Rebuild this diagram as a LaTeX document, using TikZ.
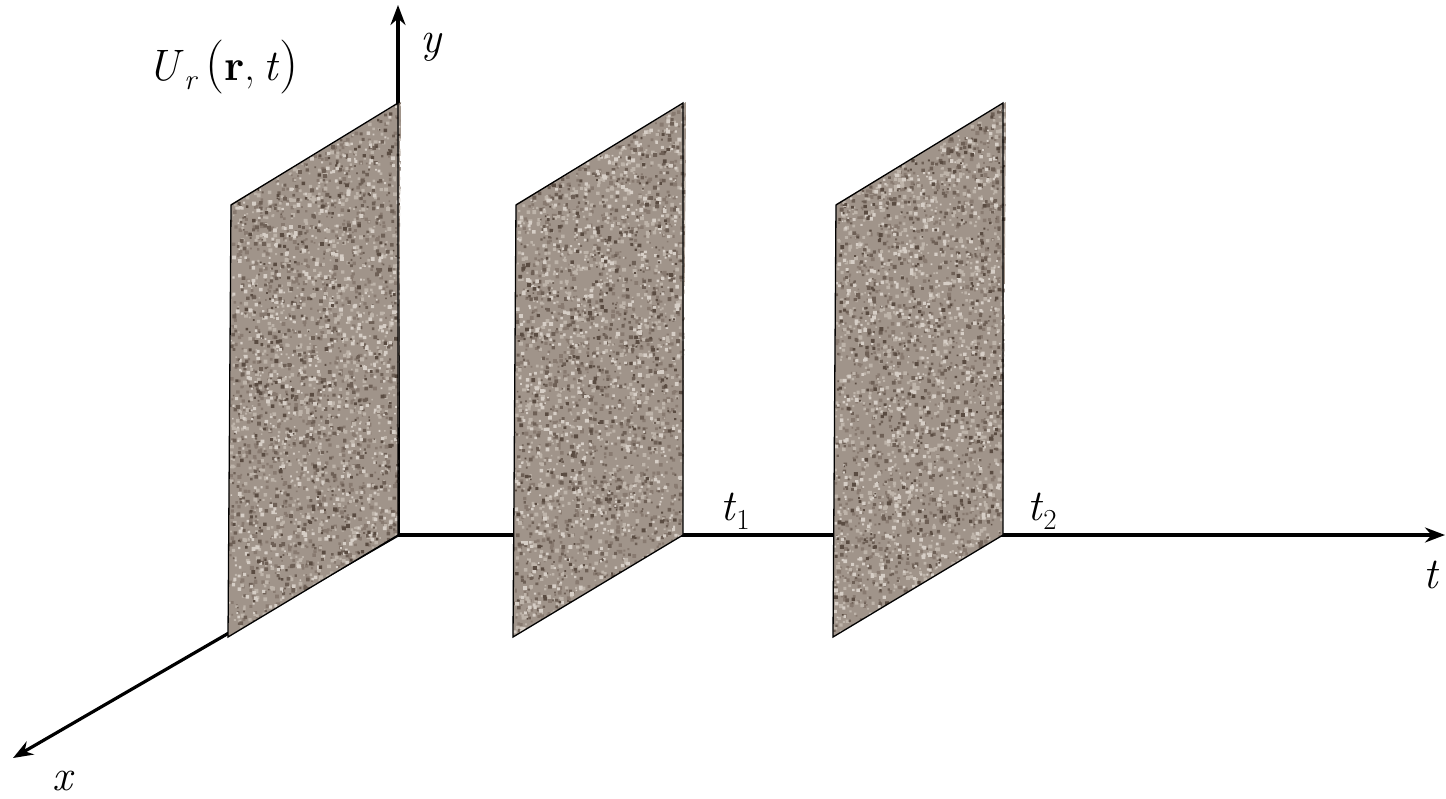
\documentclass[tikz,border=0pt]{standalone}
\usepackage{fontspec}
\usetikzlibrary{arrows.meta}
\definecolor{platebase}{RGB}{160,148,138}
\definecolor{spA}{RGB}{110,96,86}
\definecolor{spB}{RGB}{136,122,112}
\definecolor{spC}{RGB}{190,180,170}
\definecolor{spD}{RGB}{214,206,198}
\definecolor{spE}{RGB}{90,76,66}
\tikzset{
  axis/.style={line width=3.2pt,-{Stealth[length=20pt,width=15pt]}},
  plateedge/.style={draw=black,line width=1.3pt},
  lbl/.style={inner sep=0pt,font=\fontsize{44}{44}\selectfont}
}
\newcommand{\subtxt}[1]{\raisebox{-0.22em}{\fontsize{29}{29}\selectfont #1}}
% #1,#2 = bottom-left corner (pixels); sides (170,-102) and (3,-433)
\newcommand{\grains}[4]{% x0, y0, colour, count
  \fill[#3] foreach \k [evaluate=\k as \uu using rnd, evaluate=\k as \vv using rnd, evaluate=\k as \ss using {1.5+2.5*rnd}] in {1,...,#4}
    { ({#1+170*\uu+3*\vv},{#2-102*\uu-433*\vv}) rectangle ++(\ss,\ss) };
}
\newcommand{\myplate}[2]{%
  \begin{scope}
    \clip (#1,#2) -- ++(170,-102) -- ++(3,-433) -- ++(-170,102) -- cycle;
    \fill[platebase] (#1,#2) -- ++(170,-102) -- ++(3,-433) -- ++(-170,102) -- cycle;
    \grains{#1}{#2}{spB}{900}
    \grains{#1}{#2}{spC}{1000}
    \grains{#1}{#2}{spA}{600}
    \grains{#1}{#2}{spD}{600}
    \grains{#1}{#2}{spE}{250}
  \end{scope}
  \draw[plateedge] (#1,#2) -- ++(170,-102) -- ++(0,-432) -- ++(-167,102) -- cycle;
}
\begin{document}
\begin{tikzpicture}[x=1pt,y=-1pt]
\useasboundingbox (0,0) rectangle (1446,798);
\pgfmathsetseed{7}
\coordinate (O) at (398,535);
\coordinate (Y) at (398,5);
\coordinate (T) at (1445,535);
\coordinate (X) at (13,758);
\draw[axis] (O) -- (Y);
\draw[axis] (O) -- (T);
\draw[axis] (O) -- (X);
\myplate{228}{637}
\myplate{513}{637}
\myplate{833}{637}
\node[lbl,anchor=base] (U) at (223,80) {\textit{U}\subtxt{\textit{r}}\,{\fontsize{54}{54}\selectfont(}\textbf{r},\,\textit{t}{\fontsize{54}{54}\selectfont)}};
\node[lbl,anchor=base] (ylbl) at (432,52) {\textit{y}};
\node[lbl,anchor=base] (t1) at (735,520) {\textit{t}\subtxt{1}};
\node[lbl,anchor=base] (t2) at (1042,520) {\textit{t}\subtxt{2}};
\node[lbl,anchor=base] (tlbl) at (1432,588) {\textit{t}};
\node[lbl,anchor=base] (xlbl) at (64,790) {\textit{x}};
\end{tikzpicture}
\end{document}
